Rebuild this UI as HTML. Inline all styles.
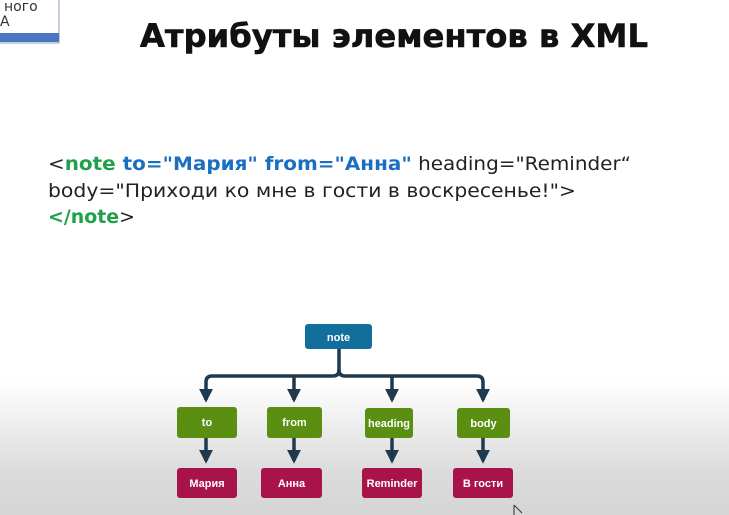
<!DOCTYPE html>
<html><head><meta charset="utf-8"><style>
html,body{margin:0;padding:0;}
body{width:729px;height:515px;overflow:hidden;background:linear-gradient(to bottom,#fff 0,#fff 380px,#dcdcdc 470px,#d5d5d5 515px);}
</style></head><body>
<svg width="729" height="515" xmlns="http://www.w3.org/2000/svg" style="position:absolute;left:0;top:0">
<defs>
<marker id="a" viewBox="0 0 10 10" refX="8" refY="5" markerWidth="4" markerHeight="4" orient="auto"><path d="M0,0 L10,5 L0,10 z" fill="#1f3a4f"/></marker>
</defs>
<rect x="-2" y="-2" width="61" height="45" fill="#fff" stroke="#8aa0c0" stroke-width="1"/>
<rect x="0" y="33" width="59" height="9" fill="#4a76c0"/>
<text x="4" y="11" font-family="DejaVu Sans, sans-serif" font-size="14" fill="#333">ного</text>
<text x="0" y="26" font-family="DejaVu Sans, sans-serif" font-size="14" fill="#333">А</text>
<text x="140" y="47" font-family="DejaVu Sans, sans-serif" font-weight="bold" font-size="32" textLength="508" lengthAdjust="spacingAndGlyphs" fill="#111" stroke="#111" stroke-width="0.6">Атрибуты элементов в XML</text>
<g font-family="DejaVu Sans, sans-serif" font-size="19">
<text x="48" y="170" textLength="583" lengthAdjust="spacingAndGlyphs"><tspan fill="#222">&lt;</tspan><tspan fill="#1fa04a" font-weight="bold">note </tspan><tspan fill="#1a6fc0" font-weight="bold">to="Мария" from="Анна"</tspan><tspan fill="#222">  heading="Reminder“</tspan></text>
<text x="48" y="197" textLength="528" lengthAdjust="spacingAndGlyphs" fill="#222">body="Приходи ко мне в гости в воскресенье!"&gt;</text>
<text x="48" y="223" textLength="87" lengthAdjust="spacingAndGlyphs"><tspan fill="#1fa04a" font-weight="bold">&lt;/note</tspan><tspan fill="#222">&gt;</tspan></text>
</g>
<g stroke="#1f3a4f" stroke-width="3.5" fill="none">
<path d="M339 349 V370 Q339 376 333 376 H212 Q206 376 206 382 V400" marker-end="url(#a)"/>
<path d="M339 370 Q339 376 345 376 H477 Q483 376 483 382 V400" marker-end="url(#a)"/>
<path d="M294 376 V400" marker-end="url(#a)"/>
<path d="M392 376 V400" marker-end="url(#a)"/>
<path d="M206 438 V461" marker-end="url(#a)"/>
<path d="M294 438 V461" marker-end="url(#a)"/>
<path d="M392 438 V461" marker-end="url(#a)"/>
<path d="M483 438 V461" marker-end="url(#a)"/>
</g>
<g font-family="Liberation Sans, sans-serif" font-weight="bold" font-size="11" fill="#fff" text-anchor="middle">
<rect x="305" y="324" width="67" height="25" rx="3" fill="#126f9c"/>
<text x="338.5" y="341">note</text>
<rect x="177" y="407" width="60" height="31" rx="3" fill="#5a8f12"/>
<text x="207" y="426">to</text>
<rect x="267" y="407" width="55" height="31" rx="3" fill="#5a8f12"/>
<text x="294.5" y="426">from</text>
<rect x="365" y="408" width="48" height="30" rx="3" fill="#5a8f12"/>
<text x="389" y="427" textLength="42" lengthAdjust="spacingAndGlyphs">heading</text>
<rect x="457" y="408" width="53" height="30" rx="3" fill="#5a8f12"/>
<text x="483.5" y="427">body</text>
<rect x="177" y="468" width="60" height="30" rx="3" fill="#a8144a"/>
<text x="207" y="487">Мария</text>
<rect x="261" y="468" width="61" height="30" rx="3" fill="#a8144a"/>
<text x="291.5" y="487">Анна</text>
<rect x="362" y="468" width="60" height="30" rx="3" fill="#a8144a"/>
<text x="392" y="487">Reminder</text>
<rect x="453" y="468" width="60" height="30" rx="3" fill="#a8144a"/>
<text x="483" y="487">В гости</text>
</g>
<path d="M514 505 L514 515 M514 505 L522 513" stroke="#333" stroke-width="1" fill="none"/>
</svg>
</body></html>
